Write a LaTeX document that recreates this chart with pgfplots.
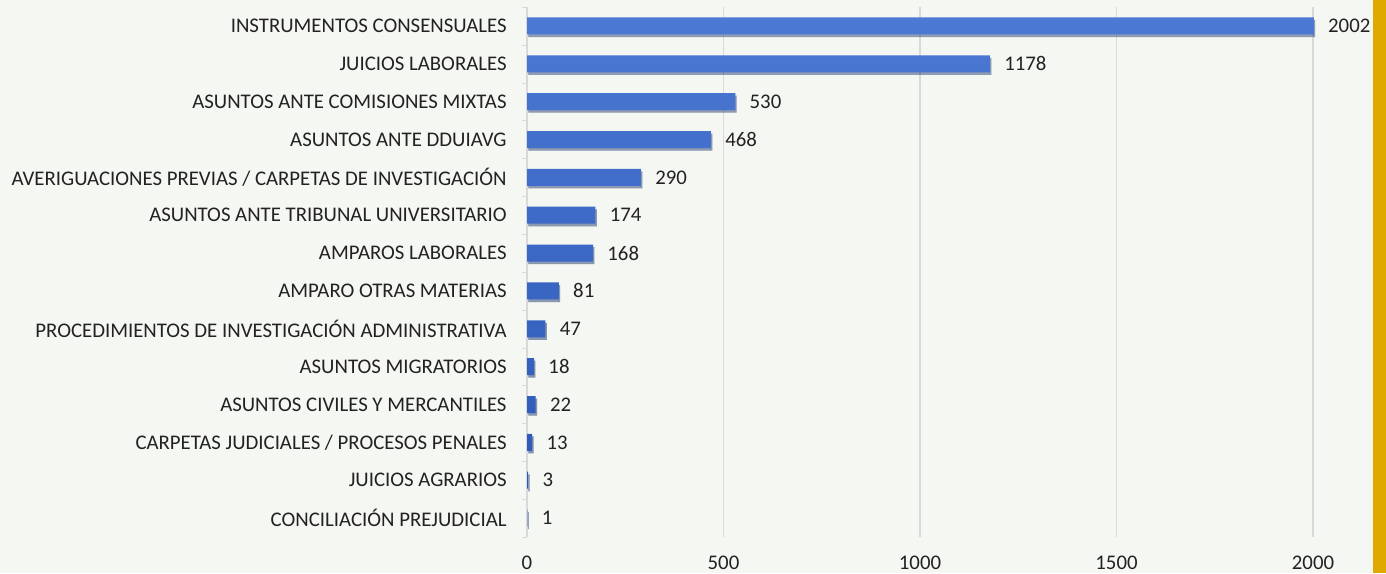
\documentclass[border=0pt]{standalone}
\usepackage{pgfplots}
\pgfplotsset{compat=1.18}
\usepackage{fontspec}
\setmainfont{Carlito}
\usetikzlibrary{shadows}
\definecolor{bgc}{HTML}{F5F7F2}
\definecolor{gold}{HTML}{E0A900}
\definecolor{bartop}{HTML}{4B79D3}
\definecolor{barbot}{HTML}{2A55B5}
\definecolor{txt}{HTML}{222222}
\definecolor{gridc}{HTML}{D9D9D9}
\begin{document}
\begin{tikzpicture}
% background and right strip (1 px = 0.5pt)
\fill[bgc] (0,0) rectangle (693pt,286.5pt);
\fill[gold] (686.5pt,0) rectangle (693pt,286.5pt);
\begin{axis}[
    at={(263.5pt,18pt)}, anchor=south west,
    scale only axis,
    width=393pt, height=265pt,
    xbar, bar width=8.5pt,
    xmin=0, xmax=2000,
    ymin=-0.5, ymax=13.5,
    y dir=reverse,
    xtick={0,500,1000,1500,2000},
    ytick={0,...,13},
    yticklabels={
        INSTRUMENTOS CONSENSUALES,
        JUICIOS LABORALES,
        ASUNTOS ANTE COMISIONES MIXTAS,
        ASUNTOS ANTE DDUIAVG,
        AVERIGUACIONES PREVIAS / CARPETAS DE INVESTIGACIÓN,
        ASUNTOS ANTE TRIBUNAL UNIVERSITARIO,
        AMPAROS LABORALES,
        AMPARO OTRAS MATERIAS,
        PROCEDIMIENTOS DE INVESTIGACIÓN ADMINISTRATIVA,
        ASUNTOS MIGRATORIOS,
        ASUNTOS CIVILES Y MERCANTILES,
        CARPETAS JUDICIALES / PROCESOS PENALES,
        JUICIOS AGRARIOS,
        CONCILIACIÓN PREJUDICIAL},
    minor ytick={-0.5,0.5,...,13.5},
    major tick length=0pt,
    minor tick length=2.5pt,
    tick align=outside,
    minor tick style={gridc},
    xmajorgrids=true,
    grid style={gridc, line width=0.6pt},
    axis x line*=bottom,
    axis y line*=left,
    x axis line style={draw=none},
    y axis line style={draw=gridc, line width=0.6pt},
    axis line style={-},
    font=\fontsize{10.4}{12}\selectfont,
    /pgf/number format/assume math mode=true,
    /pgf/number format/1000 sep={},
    tick label style={text=txt},
    yticklabel style={inner sep=0pt, xshift=-10pt},
    xticklabel style={inner sep=0pt, yshift=-9.5pt},
    nodes near coords,
    nodes near coords style={anchor=west, inner sep=0pt, xshift=7pt, text=txt, font=\fontsize{10.4}{12}\selectfont},
    clip=false,
]
\addplot[draw=none, top color=bartop, bottom color=barbot,
    drop shadow={shadow xshift=0.7pt, shadow yshift=-1.3pt, fill=black, opacity=0.3}]
    coordinates {
    (2002,0) (1178,1) (530,2) (468,3) (290,4) (174,5) (168,6)
    (81,7) (47,8) (18,9) (22,10) (13,11) (3,12) (1,13)
};
\end{axis}
\end{tikzpicture}
\end{document}
